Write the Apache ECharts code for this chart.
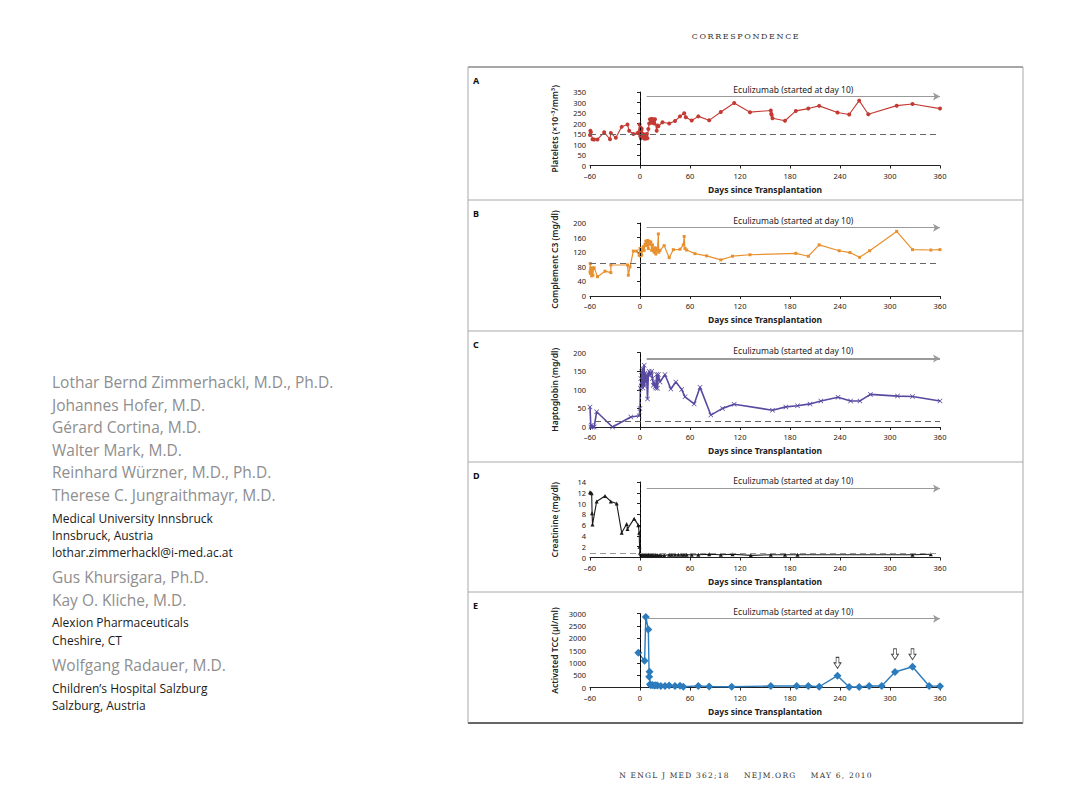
<!DOCTYPE html>
<html><head><meta charset="utf-8">
<script src="https://cdn.jsdelivr.net/npm/echarts@6/dist/echarts.min.js"></script>
<style>
html,body{margin:0;padding:0;background:#fff;}
#chart{position:absolute;left:0;top:0;width:1080px;height:810px;}
.t{position:absolute;white-space:nowrap;font-family:"Open Sans","Noto Sans",sans-serif;line-height:1;}
.n{color:#8e8e8e;font-size:15.5px;}
.a{color:#1a1a1a;font-size:12px;}
.hdr{position:absolute;width:400px;text-align:center;font-family:"DejaVu Serif","Liberation Serif",serif;color:#333;white-space:nowrap;}
</style></head><body>
<div id="chart"></div>
<script>
// ---------------- data ----------------
const dayTicks = [-60, 0, 60, 120, 180, 240, 300, 360];

const plateletPoints = [[-60,145],[-59.5,165],[-59,158],[-57,125],[-55,124],[-51,124],[-43,158],[-36,125],[-35,155],[-29,132],[-22,184],[-15,195],[-13,165],[-8,150],[-3,155],[-1,160],[-0.5,195],[0,170],[0.3,140],[0.6,180],[1,130],[1.5,165],[2,175],[3,136],[4,150],[5,128],[6,145],[7,128],[8,150],[9,130],[10,174],[11,200],[12,220],[13,205],[14,222],[15,204],[16,220],[17,200],[18,220],[20,165],[21,190],[22,187],[27,206],[35,200],[42,212],[48,234],[53,249],[55,230],[62,214],[70,234],[83,215],[97,255],[113,298],[132,254],[157,262],[157.5,247],[158,240],[159,225],[174,213],[187,260],[202,271],[215,284],[237,252],[251,243],[263,309],[274,244],[308,285],[327,293],[360,271]];

const c3Points = [[-60,66],[-59.7,89],[-59.4,62],[-59,75],[-58,55],[-57,77],[-56.5,57],[-56,75],[-55,77],[-51,53],[-42,68],[-35,64],[-35,85],[-15,85],[-14,57],[-12,80],[-8,123],[-4,123],[-1,112],[0,130],[0.3,110],[0.6,125],[1,115],[1.5,128],[2,112],[3,125],[4,135],[5,125],[6,141],[7,150],[8,138],[9,152],[10,130],[11,150],[12,142],[13,148],[14,125],[15,140],[16,128],[17,120],[18,132],[19,115],[20,125],[21,130],[22,170],[22.5,120],[24,125],[29,138],[35,105],[40,127],[48,128],[52,140],[53,163],[54,130],[56,126],[66,116],[80,110],[97,99],[111,109],[132,113],[187,117],[202,109],[215,140],[239,124],[252,119],[263.5,106],[275.6,124],[308,177],[327,127],[349,126],[360,127]];

const haptoPoints = [[-60,54],[-59,0],[-58.5,5],[-57,0],[-55,0],[-52,41],[-33,0],[-11,27],[-1,30],[0,50],[0.5,104],[1,130],[1.5,110],[2,148],[2.5,120],[3,157],[3.5,105],[4,140],[5,166],[5.5,110],[6,145],[7,120],[8,139],[9,75],[10,140],[11,150],[12,139],[13,145],[14,150],[15,130],[16,112],[17,120],[18,108],[19,104],[20,141],[21,104],[22,141],[24,121],[30,141],[37,102],[43,121],[50,101],[54,81],[65,62],[72,107],[85,32],[99,50],[113,61],[159,45],[175,54],[189,57],[204,62],[217,70],[237.6,80],[252.7,70],[264,70],[276.5,87.5],[309,83],[327,82],[360,70]];

const creatininePoints = [[-60,12.1],[-59,12.0],[-58,11.9],[-57.5,8.2],[-57,6.1],[-52,10.4],[-42,11.4],[-35,10.4],[-28,10.0],[-22,4.6],[-16,6.2],[-15,5.3],[-7,7.2],[-2,6.0],[-1,4.6],[-0.5,2.0],[0,0.9],[1,0.6],[2,0.5],[3,0.5],[4,0.4],[5,0.5],[6,0.4],[7,0.5],[8,0.4],[9,0.4],[10,0.5],[11,0.4],[12,0.4],[13,0.4],[14,0.5],[15,0.4],[16,0.4],[18,0.4],[19,0.5],[21,0.4],[23,0.4],[25,0.4],[29,0.4],[35,0.5],[38,0.5],[42,0.5],[46,0.5],[50,0.5],[53,0.5],[56,0.5],[62,0.5],[70,0.5],[83,0.6],[97,0.5],[111,0.6],[133,0.4],[157,0.5],[174,0.5],[189,0.5],[327,0.5],[349,0.6]];

const tccPoints = [[-2,1404],[5.5,1080],[7,2862],[10,2349],[11,432],[11.5,634],[12,135],[13,95],[15,100],[17,85],[19,95],[21,80],[25,60],[30,65],[35,80],[42,60],[48,70],[52,30],[70,65],[83,40],[110,30],[157,60],[188,60],[202,60],[215,30],[237,480],[251,20],[263,20],[275,60],[290,60],[306,630],[327,840],[347,60],[360,55]];
const tccArrowDays = [237, 306, 327];
const tccArrowLevels = [1000, 1350, 1350];

const panelLetters = ['A', 'B', 'C', 'D', 'E'];
const yNames = ['Platelets (×10⁻³/mm³)', 'Complement C3 (mg/dl)', 'Haptoglobin (mg/dl)', 'Creatinine (mg/dl)', 'Activated TCC (µl/ml)'];
const yMax = [350, 200, 200, 14, 3000];
const yStep = [50, 40, 50, 2, 500];
const refLevels = [150, 90, 15, 0.7, null];
const refStarts = [-60, -60, -54, -60, null];
const arrowLevels = [328, 187, 184, 12.8, 2790];
const arrowText = 'Eculizumab (started at day 10)';
const xName = 'Days since Transplantation';

// -------------- layout --------------
const gridTops = [92, 223, 352.5, 482, 613.5];
const gridHeights = [73.5, 73, 74.5, 75.5, 74];
const frameLines = [67, 200, 331, 462, 592];

const FONT = '"Noto Sans", "DejaVu Sans", sans-serif';
const styles = [
  {color: '#c43a33', symbol: 'circle', size: 4, width: 1.1},
  {color: '#e8902e', symbol: 'rect', size: 3, width: 1.2},
  {color: '#574aa0', symbol: 'path://M0,1L1,0L5,4L9,0L10,1L6,5L10,9L9,10L5,6L1,10L0,9L4,5Z', size: 5, width: 1.6},
  {color: '#1a1a1a', symbol: 'triangle', size: 4, width: 1.1},
  {color: '#2b7bbd', symbol: 'diamond', size: 8, width: 1.4}
];
const allPoints = [plateletPoints, c3Points, haptoPoints, creatininePoints, tccPoints];

const grid = [], xAxis = [], yAxis = [], series = [];
for (let i = 0; i < 5; i++) {
  grid.push({left: 590, width: 350, top: gridTops[i], height: gridHeights[i]});
  xAxis.push({
    type: 'value', gridIndex: i, min: dayTicks[0], max: dayTicks[dayTicks.length - 1], interval: 60,
    axisLine: {lineStyle: {color: '#222', width: 1}},
    axisTick: {length: 3, lineStyle: {color: '#222'}},
    axisLabel: {fontSize: 7.5, color: '#222', margin: 6, fontFamily: FONT, formatter: v => String(v).replace('-', '–')},
    splitLine: {show: false},
    name: xName, nameLocation: 'middle', nameGap: 19,
    nameTextStyle: {fontSize: 8.5, fontWeight: 'bold', color: '#222', fontFamily: FONT}
  });
  yAxis.push({
    type: 'value', gridIndex: i, min: 0, max: yMax[i], interval: yStep[i],
    axisLine: {show: true, lineStyle: {color: '#222', width: 1}},
    axisTick: {show: true, length: 3, lineStyle: {color: '#222'}},
    axisLabel: {fontSize: 7.5, color: '#222', margin: 4, fontFamily: FONT, formatter: v => String(v)},
    splitLine: {show: false},
    name: yNames[i], nameLocation: 'middle', nameGap: 31,
    nameTextStyle: {fontSize: 8.5, fontWeight: 600, color: '#222', fontFamily: FONT}
  });
  const ml = [
    {xAxis: 0, lineStyle: {color: '#000', type: [3, 2], width: 1}, label: {show: false}}
  ];
  if (refLevels[i] !== null) {
    ml.push([{coord: [refStarts[i], refLevels[i]], lineStyle: {color: i === 3 ? '#999' : '#666', type: [6, 4], width: 1.2}, label: {show: false}},
             {coord: [360, refLevels[i]]}]);
  }
  ml.push([{coord: [8, arrowLevels[i]], lineStyle: {color: '#9a9a9a', type: 'solid', width: i === 2 ? 2 : 1.2},
            label: {show: true, position: 'middle', formatter: arrowText, color: '#222', fontSize: 8.5, fontFamily: FONT, distance: 3}},
           {coord: [360, arrowLevels[i]], symbol: 'arrow', symbolSize: [6, 7]}]);
  const s = styles[i];
  const ser = {
    type: 'line', xAxisIndex: i, yAxisIndex: i, data: allPoints[i],
    symbol: s.symbol, symbolSize: s.size, showSymbol: true,
    lineStyle: {color: s.color, width: s.width}, itemStyle: {color: s.color},
    z: 3, animation: false, silent: true,
    markLine: {silent: true, symbol: ['none', 'none'], data: ml, animation: false}
  };
  if (i === 4) {
    ser.markPoint = {
      silent: true, animation: false,
      symbol: 'path://M3,0L7,0L7,6L10,6L5,12L0,6L3,6Z', symbolSize: [7, 11],
      itemStyle: {color: '#fff', borderColor: '#444', borderWidth: 0.9},
      label: {show: false},
      data: tccArrowDays.map((d, k) => ({coord: [d, tccArrowLevels[k]]}))
    };
  }
  series.push(ser);
}

const graphic = [];
// frame
frameLines.forEach((y, k) => {
  graphic.push({type: 'line', shape: {x1: 468, y1: y, x2: 1023, y2: y}, style: {stroke: k === 0 ? '#8a8a8a' : '#a8a8a8', lineWidth: k === 0 ? 1.6 : 1}});
});
graphic.push({type: 'line', shape: {x1: 468, y1: 723, x2: 1023, y2: 723}, style: {stroke: '#333', lineWidth: 1.6}});
graphic.push({type: 'line', shape: {x1: 468, y1: 67, x2: 468, y2: 723}, style: {stroke: '#a8a8a8', lineWidth: 1}});
graphic.push({type: 'line', shape: {x1: 1023, y1: 67, x2: 1023, y2: 723}, style: {stroke: '#a8a8a8', lineWidth: 1}});
panelLetters.forEach((L, k) => {
  graphic.push({type: 'text', left: 473, top: frameLines[k] + 9, style: {text: L, font: 'bold 9px ' + FONT, fill: '#111'}});
});

const chart = echarts.init(document.getElementById('chart'), null, {renderer: 'svg'});
chart.setOption({animation: false, grid, xAxis, yAxis, series, graphic});

// -------------- page text --------------
const sideLines = [
  ['n', 'Lothar Bernd Zimmerhackl, M.D., Ph.D.', 383],
  ['n', 'Johannes Hofer, M.D.', 406],
  ['n', 'Gérard Cortina, M.D.', 428],
  ['n', 'Walter Mark, M.D.', 451],
  ['n', 'Reinhard Würzner, M.D., Ph.D.', 473],
  ['n', 'Therese C. Jungraithmayr, M.D.', 496],
  ['a', 'Medical University Innsbruck', 519],
  ['a', 'Innsbruck, Austria', 536],
  ['a', 'lothar.zimmerhackl@i-med.ac.at', 553],
  ['n', 'Gus Khursigara, Ph.D.', 578],
  ['n', 'Kay O. Kliche, M.D.', 601],
  ['a', 'Alexion Pharmaceuticals', 623],
  ['a', 'Cheshire, CT', 641],
  ['n', 'Wolfgang Radauer, M.D.', 666],
  ['a', 'Children’s Hospital Salzburg', 689],
  ['a', 'Salzburg, Austria', 706]
];
sideLines.forEach(([cls, txt, y]) => {
  const d = document.createElement('div');
  d.className = 't ' + cls;
  d.textContent = txt;
  const fs = cls === 'n' ? 15.5 : 12;
  d.style.left = '52px';
  d.style.top = (y - fs / 2) + 'px';
  document.body.appendChild(d);
});
const h = document.createElement('div');
h.className = 'hdr'; h.textContent = 'CORRESPONDENCE';
h.style.cssText += 'left:546px;top:32px;font-size:8px;letter-spacing:1.6px;';
document.body.appendChild(h);
const f = document.createElement('div');
f.className = 'hdr'; f.textContent = 'N ENGL J MED 362;18    NEJM.ORG    MAY 6, 2010';
f.style.cssText += 'left:546px;top:771px;font-size:7.5px;letter-spacing:1.2px;white-space:pre;';
document.body.appendChild(f);
</script>
</body></html>
